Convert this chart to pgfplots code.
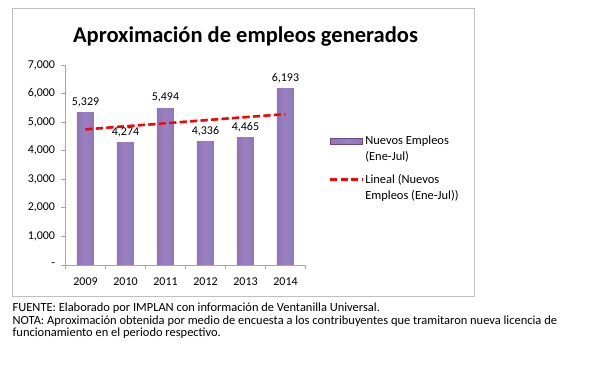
\documentclass[border=0pt]{standalone}
\usepackage{fontspec}
\setmainfont{Carlito}
\usepackage{pgfplots}
\pgfplotsset{compat=1.18}
\definecolor{barDark}{HTML}{654B8A}
\definecolor{barMid}{HTML}{8A6FB0}
\definecolor{barLight}{HTML}{9A81C1}
\definecolor{axgray}{HTML}{A6A6A6}
\definecolor{framegray}{HTML}{BFBFBF}
\pgfdeclarehorizontalshading{barshade}{100bp}{color(0bp)=(barDark); color(12bp)=(barMid); color(50bp)=(barLight); color(88bp)=(barMid); color(100bp)=(barDark)}
\pgfplotsset{
  barlegend/.style={legend image code/.code={\path[##1, draw=barDark] (0bp,5bp) rectangle (32bp,11bp);}},
  linelegend/.style={legend image code/.code={\draw[##1] (0bp,8bp) -- (32bp,8bp);}},
  mybar/.style={ybar, bar shift=0pt, bar width=17bp, draw=none, fill=barMid, shade, shading=barshade, shading angle=0,
    nodes near coords, nodes near coords style={font=\fontsize{12}{14}\selectfont, text=black, anchor=south, yshift=2bp, /pgf/number format/1000 sep={,}}},
}
\begin{document}
\begin{tikzpicture}
\draw[framegray, line width=1.3bp] (-52.8bp,-31.3bp) rectangle (408.8bp,256.7bp);
\node[font=\fontsize{22.6}{26}\selectfont\bfseries] at (180bp,228bp) {Aproximación de empleos generados};
\begin{axis}[
  at={(0bp,0bp)}, anchor=south west,
  scale only axis, width=240bp, height=200bp,
  xmin=-0.5, xmax=5.5, ymin=0, ymax=7000,
  axis x line*=bottom, axis y line*=left,
  axis line style={axgray, line width=0.8bp},
  xtick={0,1,2,3,4,5},
  xticklabels={2009,2010,2011,2012,2013,2014},
  minor xtick={-0.5,0.5,1.5,2.5,3.5,4.5,5.5},
  major tick length=4bp,
  minor tick length=4bp,
  x tick style={draw=none},
  minor x tick style={axgray, line width=0.8bp, draw=axgray},
  ytick={0,1000,2000,3000,4000,5000,6000,7000},
  yticklabels={-,{1,000},{2,000},{3,000},{4,000},{5,000},{6,000},{7,000}},
  y tick style={axgray, line width=0.8bp},
  tick align=outside,
  ticklabel style={font=\fontsize{12}{14}\selectfont, text=black},
  xticklabel style={yshift=-5bp},
  yticklabel style={xshift=-3bp},
  /pgf/number format/assume math mode=true,
  legend style={at={(1.085,0.665)}, anchor=north west, draw=none, fill=none,
    font=\fontsize{12.5}{16}\selectfont, cells={align=left, anchor=west},
    row sep=8bp},
  clip=false,
]
\addplot[mybar, barlegend] coordinates {(0,5329)};
\addlegendentry{Nuevos Empleos\\(Ene-Jul)}
\addplot[red, line width=2.3bp, dash pattern=on 7bp off 3.5bp, linelegend]
  coordinates {(0,4748) (5,5282)};
\addlegendentry{Lineal (Nuevos\\Empleos (Ene-Jul))}
\addplot[mybar, forget plot] coordinates {(1,4274)};
\addplot[mybar, forget plot] coordinates {(2,5494)};
\addplot[mybar, forget plot] coordinates {(3,4336)};
\addplot[mybar, forget plot] coordinates {(4,4465)};
\addplot[mybar, forget plot] coordinates {(5,6193)};
\addplot[red, line width=2.3bp, dash pattern=on 7bp off 3.5bp, forget plot]
  coordinates {(0,4748) (5,5282)};
\end{axis}
\begin{scope}[font=\fontsize{12.5}{14}\selectfont]
\node[anchor=base west, inner sep=0pt] at (-53bp,-46.7bp) {FUENTE: Elaborado por IMPLAN con información de Ventanilla Universal.};
\node[anchor=base west, inner sep=0pt] at (-53bp,-59.2bp) {NOTA: Aproximación obtenida por medio de encuesta a los contribuyentes que tramitaron nueva licencia de};
\node[anchor=base west, inner sep=0pt] at (-53bp,-71.7bp) {funcionamiento en el periodo respectivo.};
\end{scope}
\pgfresetboundingbox
\path[use as bounding box] (-65.5bp,-109bp) rectangle (523.5bp,265bp);
\end{tikzpicture}
\end{document}
